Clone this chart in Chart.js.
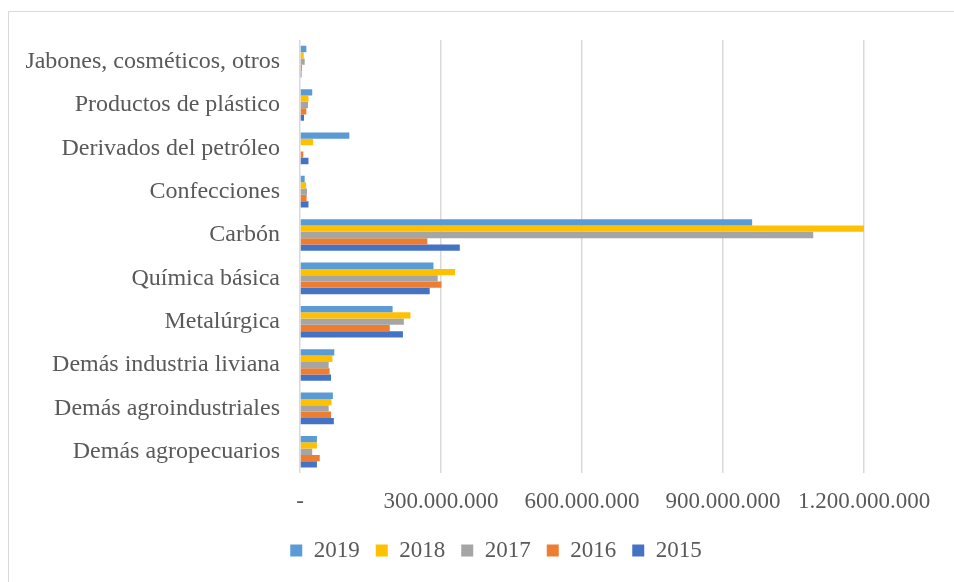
<!DOCTYPE html>
<html>
<head>
<meta charset="utf-8">
<script src="https://cdn.jsdelivr.net/npm/chart.js@4/dist/chart.umd.min.js"></script>
<style>
  html, body { margin: 0; padding: 0; background: #fff; overflow: hidden; }
  #wrap { position: relative; width: 954px; height: 582px; }
  #frame { position: absolute; left: 8px; top: 11px; width: 960px; height: 590px; border: 1.5px solid #d9d9d9; box-sizing: border-box; pointer-events: none; }
  canvas { position: absolute; left: 0; top: 0; }
</style>
</head>
<body>
<div id="wrap">
  <div id="frame"></div>
  <canvas id="c" width="954" height="582"></canvas>
</div>
<script>
const categories = [
  "Jabones, cosméticos, otros",
  "Productos de plástico",
  "Derivados del petróleo",
  "Confecciones",
  "Carbón",
  "Química básica",
  "Metalúrgica",
  "Demás industria liviana",
  "Demás agroindustriales",
  "Demás agropecuarios"
];
const years = ["2019", "2018", "2017", "2016", "2015"];
const values2019 = [13500000, 26000000, 105000000, 10000000, 962000000, 284000000, 197000000, 73000000, 70000000, 36000000];
const values2018 = [8000000, 18000000, 28000000, 13000000, 1203000000, 330000000, 235000000, 69000000, 67000000, 36000000];
const values2017 = [10000000, 17000000, 0, 15000000, 1092000000, 293000000, 221000000, 61000000, 61000000, 26000000];
const values2016 = [4000000, 13500000, 7000000, 14000000, 271000000, 301000000, 191000000, 63000000, 66000000, 42000000];
const values2015 = [3000000, 8500000, 18000000, 18000000, 340000000, 276000000, 219000000, 66000000, 72000000, 36000000];
const colors = ["#5B9BD5", "#FFC000", "#A5A5A5", "#ED7D31", "#4472C4"];
const xTickMax = 1200000000;
const xTickStep = 300000000;

const seriesValues = [values2019, values2018, values2017, values2016, values2015];
const textColor = "#595959";
const fontFamily = "'Liberation Serif', 'Times New Roman', serif";

function fmt(v) {
  if (v === 0) return "-";
  return String(Math.round(v)).replace(/\B(?=(\d{3})+(?!\d))/g, ".");
}

const legendShift = {
  id: "legendShift",
  afterLayout(chart) {
    if (chart.legend) {
      chart.legend.left += 64;
      chart.legend.right += 64;
    }
  }
};

new Chart(document.getElementById("c"), {
  type: "bar",
  data: {
    labels: categories,
    datasets: years.map((y, i) => ({
      label: y,
      data: seriesValues[i],
      backgroundColor: colors[i],
      borderWidth: 0,
      categoryPercentage: 0.73,
      barPercentage: 1.0
    }))
  },
  plugins: [legendShift],
  options: {
    indexAxis: "y",
    responsive: false,
    animation: false,
    devicePixelRatio: 1,
    layout: { padding: { left: 0, top: 40, right: 90, bottom: 10 } },
    plugins: {
      tooltip: { enabled: false },
      legend: {
        position: "bottom",
        labels: {
          boxWidth: 12,
          boxHeight: 12,
          padding: 16,
          color: textColor,
          font: { family: fontFamily, size: 23 }
        }
      }
    },
    scales: {
      x: {
        min: 0,
        max: xTickMax,
        ticks: {
          stepSize: xTickStep,
          padding: 15,
          color: textColor,
          font: { family: fontFamily, size: 23 },
          maxRotation: 0,
          callback: (v) => fmt(v)
        },
        grid: { color: "#d9d9d9", lineWidth: 1.5, drawTicks: false },
        border: { display: false },
        afterFit: (s) => { s.height -= 8; }
      },
      y: {
        ticks: {
          padding: 20,
          color: textColor,
          font: { family: fontFamily, size: 24 }
        },
        grid: { display: false, drawTicks: false },
        border: { display: false },
        afterFit: (s) => { s.width = 300; }
      }
    }
  }
});
</script>
</body>
</html>
